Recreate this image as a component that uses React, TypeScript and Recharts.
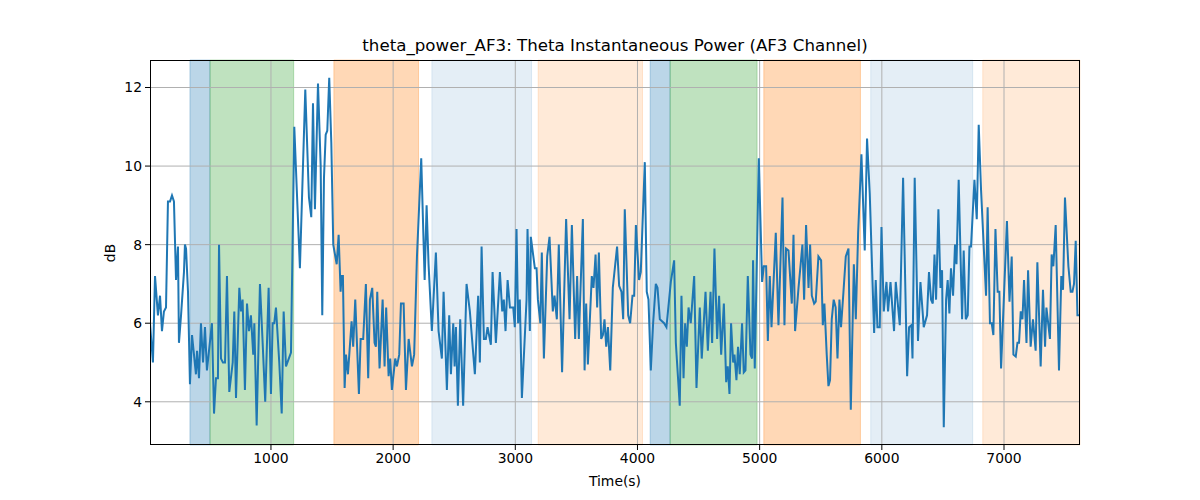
import { LineChart, Line, XAxis, YAxis, ReferenceArea, ReferenceLine } from 'recharts'

const times = [
  10, 34, 51, 75, 92, 108, 124, 141, 157, 174, 190, 206, 223, 239, 247, 264, 288, 296, 305, 321,
  337, 354, 370, 386, 395, 411, 427, 444, 460, 476, 517, 534, 550, 566, 575, 591, 607, 624, 640,
  659, 687, 700, 714, 741, 755, 768, 787, 804, 820, 836, 855, 864, 883, 910, 932, 953, 981, 1000, 1014,
  1027, 1041, 1068, 1088, 1104, 1123, 1164, 1191, 1237, 1281,
  1311, 1330, 1344, 1360, 1385, 1407, 1420, 1434, 1448, 1461, 1477, 1494, 1510, 1538, 1554, 1570, 1578,
  1589, 1603, 1614, 1630, 1660, 1673, 1690, 1720, 1734, 1755, 1777, 1796, 1810, 1829, 1848, 1859, 1870,
  1889, 1914,
  1930, 1943, 1963, 1976, 1990, 2017, 2031, 2050, 2064, 2086, 2105, 2127, 2154, 2172, 2195, 2230, 2258,
  2274, 2290, 2317, 2350, 2372, 2399, 2413, 2440, 2459, 2473, 2492, 2503, 2514, 2530, 2549,
  2573, 2601, 2628, 2669, 2696, 2710, 2724, 2743, 2759, 2773, 2800, 2814, 2841, 2874, 2893, 2906, 2920,
  2937, 2956, 2983, 2996, 3010, 3023, 3037, 3054, 3092, 3100, 3119, 3127, 3160, 3174, 3185, 3205,
  3217, 3234, 3261, 3280, 3307, 3321, 3340, 3356, 3383, 3416, 3444, 3463, 3490, 3506, 3520, 3553, 3567,
  3580, 3594, 3626, 3640, 3657, 3670, 3684, 3703, 3717, 3730, 3744, 3758, 3777, 3798, 3833,
  3850, 3869, 3883, 3896, 3924, 3940, 3959, 3973, 3987, 4013, 4027, 4060, 4076, 4090, 4109, 4128, 4150,
  4164, 4183, 4218, 4237, 4273, 4300, 4314, 4346, 4360, 4377, 4390, 4404, 4418, 4436, 4464,
  4483, 4510, 4526, 4557, 4576, 4598, 4611, 4630, 4652, 4668, 4685, 4707, 4726, 4739, 4753, 4766, 4783,
  4794, 4810, 4823, 4837, 4856, 4870, 4884, 4903, 4925, 4938, 4946, 4960, 4974, 4993, 5020, 5034, 5053,
  5067, 5083, 5097, 5116,
  5132, 5154, 5187, 5203, 5216, 5236, 5263, 5277, 5290, 5318, 5350, 5364, 5380, 5400, 5413, 5427, 5446,
  5459, 5481, 5503, 5517, 5530, 5549, 5563, 5576, 5590, 5606, 5622, 5637, 5653, 5666, 5686, 5705, 5727,
  5746,
  5771, 5787, 5806, 5833, 5860, 5879, 5901, 5937, 5950, 5964, 5983, 5997, 6016, 6038, 6051, 6071, 6100,
  6114, 6147, 6174, 6207, 6223, 6242, 6251, 6269, 6296, 6316, 6343, 6370, 6386,
  6403, 6417, 6431, 6444, 6463, 6480, 6493, 6507, 6526, 6539, 6553, 6566, 6583, 6599, 6611, 6629, 6657,
  6670, 6687, 6703, 6717, 6730, 6758, 6777, 6793, 6812, 6853, 6866, 6885, 6899, 6913, 6930, 6948, 6962,
  6976, 7024,
  7045, 7063, 7077, 7096, 7110, 7123, 7137, 7151, 7164, 7184, 7197, 7218, 7237, 7259, 7273, 7300, 7319,
  7336, 7347, 7376, 7390, 7404, 7423, 7450, 7469, 7483, 7499, 7527, 7546, 7560, 7573, 7587, 7601, 7620,
]

const thetaPower = [
  6.0, 5.0, 7.2, 6.2, 6.7, 5.8, 6.3, 6.4, 9.1, 9.1, 9.25, 9.1, 7.1, 7.95, 5.5, 6.2, 7.3, 8.0, 7.9, 6.8,
  4.45, 5.7, 5.2, 4.7, 5.3, 4.6, 6.0, 5.0, 5.9, 4.8, 6.0, 3.7, 4.6, 4.6, 8.0, 5.1, 5.0, 5.0, 7.2,
  4.25, 5.0, 6.3, 4.1, 6.9, 6.3, 6.6, 4.3, 6.5, 5.8, 6.2, 5.2, 6.0, 3.4, 7.0, 5.5, 4.0, 6.9, 4.2, 6.0,
  6.0, 6.4, 5.0, 3.7, 6.3, 4.9, 5.25, 11.0, 7.4, 11.95,
  9.2, 8.7, 11.6, 8.9, 12.1, 10.0, 6.2, 9.7, 10.8, 10.9, 12.25, 10.6, 8.0, 7.5, 8.25, 6.8, 7.2,
  7.2, 4.35, 5.2, 4.7, 6.05, 5.4, 6.6, 4.2, 5.6, 5.6, 7.0, 4.6, 6.6, 6.9, 5.5, 5.4, 6.8,
  4.85, 6.6,
  4.9, 6.4, 4.65, 5.1, 4.3, 5.1, 4.9, 5.2, 6.5, 6.5, 4.3, 5.6, 4.9, 5.2, 7.7, 10.2, 7.1,
  9.0, 7.5, 5.8, 7.8, 5.8, 5.1, 6.8, 4.3, 6.2, 4.7, 6.0, 4.9, 5.9, 3.9, 6.1,
  3.9, 7.0, 6.3, 4.7, 6.7, 5.0, 7.95, 5.6, 5.6, 5.9, 5.45, 7.3, 5.5, 7.3, 6.3, 6.6, 5.8,
  7.1, 6.4, 6.4, 5.9, 8.4, 6.0, 6.6, 4.1, 6.6, 8.4, 5.8, 8.2, 7.4, 7.4, 6.6, 6.0,
  7.8, 5.1, 7.7, 8.2, 6.3, 6.7, 6.1, 8.0, 4.75, 8.65, 6.1, 8.5, 5.6, 7.2, 5.6, 8.65, 4.8,
  6.5, 4.95, 7.2, 6.9, 7.75, 6.4, 7.8, 5.6, 5.7, 6.1, 5.4, 5.9, 4.8, 6.9, 7.95,
  6.95, 6.8, 6.1, 8.9, 6.2, 6.0, 6.7, 6.7, 8.5, 7.1, 7.3, 10.1, 6.8, 6.6, 4.8, 6.0, 7.0,
  6.9, 6.1, 6.0, 5.9, 7.05, 7.6, 5.5, 3.9, 6.7, 4.6, 6.0, 5.4, 6.4, 6.0, 7.2,
  4.35, 6.4, 5.1, 6.8, 5.3, 6.8, 5.5, 7.9, 5.6, 6.7, 5.2, 6.5, 4.5, 4.9, 4.2, 6.0, 5.0,
  5.2, 4.55, 5.4, 4.7, 6.0, 4.75, 4.8, 7.2, 5.2, 5.1, 7.6, 4.85, 7.1, 10.2, 7.05, 7.45, 7.45,
  5.55, 7.2, 5.9, 7.2,
  8.3, 5.95, 9.2, 5.95, 7.9, 7.85, 6.5, 8.25, 5.8, 6.9, 8.0, 6.6, 8.5, 6.9, 8.0, 6.7, 6.5,
  6.55, 7.7, 7.6, 5.95, 6.5, 5.2, 4.4, 4.55, 6.1, 6.6, 6.4, 5.1, 6.6, 5.9, 6.8, 7.7, 7.9,
  3.8,
  7.5, 6.1, 8.3, 10.3, 7.85, 10.7, 9.3, 5.75, 7.1, 5.9, 5.9, 8.45, 6.3, 7.05, 6.3, 7.05, 5.8,
  7.05, 5.95, 9.7, 4.65, 5.9, 5.95, 5.1, 9.7, 5.55, 7.05, 5.9, 6.2, 7.3,
  6.6, 6.5, 7.75, 6.6, 8.9, 6.9, 7.35, 3.35, 6.6, 7.1, 6.25, 7.4, 6.7, 8.0, 7.5, 9.65, 6.1,
  7.85, 6.1, 6.2, 7.95, 7.95, 9.65, 8.65, 11.05, 9.4, 6.7, 8.95, 6.0, 6.0, 5.7, 8.4, 6.8, 6.8,
  4.85, 8.6,
  6.55, 7.7, 5.2, 5.15, 5.5, 5.5, 6.3, 6.1, 7.1, 5.5, 7.35, 5.4, 6.1, 5.3, 7.55, 4.9, 6.85,
  5.4, 6.4, 5.6, 7.75, 7.45, 8.5, 4.8, 7.2, 6.85, 9.2, 7.45, 6.8, 6.8, 7.0, 8.1, 6.2, 6.2,
]

// segments: start, end, colour, alpha
const bandStart = [337, 501, 1515, 2317, 3187, 4104, 4267, 5034, 5909, 6826]
const bandEnd = [501, 1186, 2208, 3133, 4041, 4267, 4979, 5825, 6744, 7622]
const bandColor = ['#1f77b4', '#2ca02c', '#ff7f0e', '#1f77b4', '#ff7f0e', '#1f77b4', '#2ca02c', '#ff7f0e', '#1f77b4', '#ff7f0e']
const bandAlpha = [0.3, 0.3, 0.3, 0.12, 0.16, 0.3, 0.3, 0.3, 0.12, 0.16]

const xTicks = [1000, 2000, 3000, 4000, 5000, 6000, 7000]
const yTicks = [4, 6, 8, 10, 12]

const data = times.map((t, i) => ({ t, v: thetaPower[i] }))

const FONT = '"DejaVu Sans", sans-serif'
const tickStyle = { fontSize: 13.9, fill: '#000', fontFamily: FONT }

export default function App() {
  return (
    <div style={{ position: 'absolute', left: 0, top: 0, width: 1200, height: 500, background: '#fff', fontFamily: FONT }}>
      <LineChart width={1200} height={500} data={data} margin={{ top: 60, right: 120, bottom: 25, left: 90 }}>
        <XAxis
          dataKey="t"
          type="number"
          domain={[10, 7622]}
          allowDataOverflow
          ticks={xTicks}
          tick={tickStyle}
          tickSize={5}
          tickMargin={3}
          height={30}
          stroke="#000"
          axisLine={false}
        />
        <YAxis
          type="number"
          domain={[2.9, 12.7]}
          allowDataOverflow
          ticks={yTicks}
          tick={tickStyle}
          tickSize={5}
          tickMargin={3}
          width={60}
          stroke="#000"
          axisLine={false}
        />
        {bandStart.map((s, i) => (
          <ReferenceArea
            key={'b' + i}
            x1={s}
            x2={bandEnd[i]}
            fill={bandColor[i]}
            fillOpacity={bandAlpha[i]}
            stroke={bandColor[i]}
            strokeOpacity={bandAlpha[i]}
            strokeWidth={1}
          />
        ))}
        {xTicks.map((x) => (
          <ReferenceLine key={'gx' + x} x={x} stroke="#b0b0b0" strokeWidth={1} />
        ))}
        {yTicks.map((y) => (
          <ReferenceLine key={'gy' + y} y={y} stroke="#b0b0b0" strokeWidth={1} />
        ))}
        <Line
          dataKey="v"
          type="linear"
          stroke="#1f77b4"
          strokeWidth={2}
          dot={false}
          isAnimationActive={false}
        />
      </LineChart>
      <div style={{ position: 'absolute', left: 150, top: 60, width: 930, height: 385, border: '1px solid #000', boxSizing: 'border-box', pointerEvents: 'none' }} />
      <div style={{ position: 'absolute', left: 0, width: 1230, top: 36, textAlign: 'center', fontSize: 16.67, lineHeight: '20px' }}>
        theta_power_AF3: Theta Instantaneous Power (AF3 Channel)
      </div>
      <div style={{ position: 'absolute', left: 0, width: 1230, top: 473, textAlign: 'center', fontSize: 13.9, lineHeight: '16px' }}>
        Time(s)
      </div>
      <div style={{ position: 'absolute', left: 60, top: 245, width: 100, textAlign: 'center', fontSize: 13.9, lineHeight: '16px', transform: 'rotate(-90deg)' }}>
        dB
      </div>
    </div>
  )
}
